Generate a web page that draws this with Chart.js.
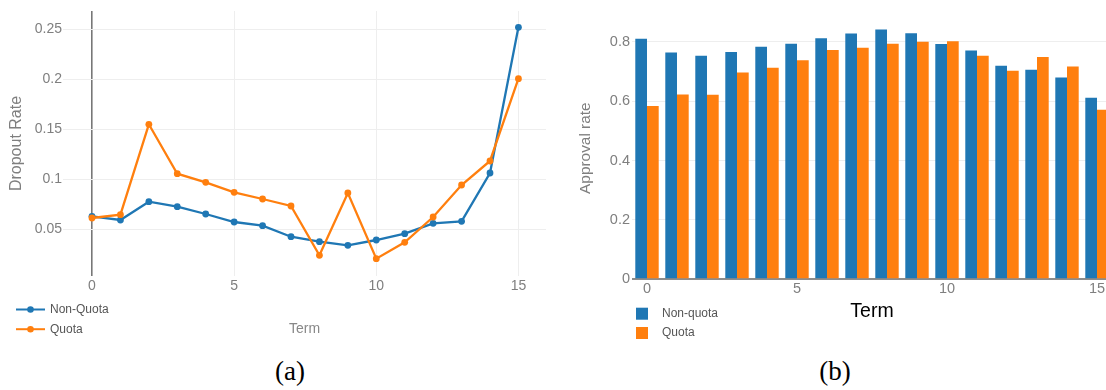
<!DOCTYPE html>
<html>
<head>
<meta charset="utf-8">
<script src="https://cdn.jsdelivr.net/npm/chart.js@4.4.1/dist/chart.umd.min.js"></script>
<style>
  html, body { margin: 0; padding: 0; background: #fff; }
  body { width: 1106px; height: 390px; overflow: hidden; position: relative; }
  #dropout { position: absolute; left: 0; top: 0; width: 560px; height: 345px; }
  #approval { position: absolute; left: 560px; top: 0; width: 560px; height: 345px; }
  .caption {
    position: absolute; top: 358px; width: 120px; margin-left: -60px;
    text-align: center; font-family: 'Liberation Serif', 'DejaVu Serif', serif;
    font-size: 27px; line-height: 27px; color: #000;
  }
</style>
</head>
<body>
<canvas id="dropout" width="560" height="345"></canvas>
<canvas id="approval" width="560" height="345"></canvas>
<div class="caption" style="left:290px">(a)</div>
<div class="caption" style="left:835px">(b)</div>
<script>
// ---- data ----
const terms = [0, 1, 2, 3, 4, 5, 6, 7, 8, 9, 10, 11, 12, 13, 14, 15];

const nonQuotaDropout = [0.0627, 0.059, 0.0773, 0.0723, 0.065, 0.057, 0.0533, 0.0423,
                         0.0373, 0.0337, 0.039, 0.0453, 0.0557, 0.0577, 0.106, 0.2517];
const quotaDropout    = [0.061, 0.0643, 0.1547, 0.1053, 0.0967, 0.0867, 0.08, 0.073,
                         0.0237, 0.086, 0.0203, 0.0367, 0.062, 0.094, 0.118, 0.2003];

const nonQuotaApproval = [0.811, 0.764, 0.753, 0.766, 0.784, 0.794, 0.812, 0.828,
                          0.842, 0.829, 0.793, 0.771, 0.720, 0.706, 0.680, 0.612];
const quotaApproval    = [0.584, 0.623, 0.622, 0.697, 0.713, 0.738, 0.773, 0.780,
                          0.794, 0.801, 0.802, 0.753, 0.703, 0.749, 0.717, 0.571];

const termTicks = [0, 5, 10, 15];
const dropoutTicks = [0.05, 0.1, 0.15, 0.2, 0.25];
const dropoutTickLabels = ['0.05', '0.1', '0.15', '0.2', '0.25'];
const approvalTicks = [0, 0.2, 0.4, 0.6, 0.8];
const approvalTickLabels = ['0', '0.2', '0.4', '0.6', '0.8'];

// ---- styling ----
const BLUE = '#1f77b4';
const ORANGE = '#ff7f0e';
const SANS = "'Liberation Sans', Arial, sans-serif";
const GREY = '#7f7f7f';

// Legend stacked in a column below the axis, drawn from the dataset list
const stackedLegend = {
  id: 'stackedLegend',
  afterDraw(chart, args, opts) {
    const ctx = chart.ctx;
    ctx.save();
    chart.data.datasets.forEach((ds, i) => {
      const y = opts.y + i * opts.rowGap;
      const color = ds.borderColor || ds.backgroundColor;
      if (opts.symbol === 'line') {
        ctx.strokeStyle = color;
        ctx.lineWidth = 2;
        ctx.beginPath();
        ctx.moveTo(opts.x, y);
        ctx.lineTo(opts.x + opts.symbolWidth, y);
        ctx.stroke();
        ctx.fillStyle = color;
        ctx.beginPath();
        ctx.arc(opts.x + opts.symbolWidth / 2, y, 3.3, 0, Math.PI * 2);
        ctx.fill();
      } else {
        ctx.fillStyle = ds.backgroundColor;
        ctx.fillRect(opts.x, y - opts.symbolWidth / 2, opts.symbolWidth, opts.symbolWidth);
      }
      ctx.fillStyle = opts.color;
      ctx.font = opts.font;
      ctx.textBaseline = 'middle';
      ctx.textAlign = 'left';
      ctx.fillText(ds.label, opts.textX, y);
    });
    ctx.restore();
  }
};

const setTicks = values => scale => { scale.ticks = values.map(v => ({ value: v })); };
const labelFrom = (values, labels) => v => {
  const i = values.findIndex(t => Math.abs(t - v) < 1e-9);
  return i >= 0 ? labels[i] : '';
};

// ---- (a) dropout rate by term ----
new Chart(document.getElementById('dropout'), {
  type: 'line',
  data: {
    datasets: [
      {
        label: 'Non-Quota',
        data: terms.map((t, i) => ({ x: t, y: nonQuotaDropout[i] })),
        borderColor: BLUE, backgroundColor: BLUE,
        borderWidth: 2.3, pointRadius: 3.4, pointBorderWidth: 0,
        pointBackgroundColor: BLUE, tension: 0, order: 1
      },
      {
        label: 'Quota',
        data: terms.map((t, i) => ({ x: t, y: quotaDropout[i] })),
        borderColor: ORANGE, backgroundColor: ORANGE,
        borderWidth: 2.3, pointRadius: 3.4, pointBorderWidth: 0,
        pointBackgroundColor: ORANGE, tension: 0, order: 0
      }
    ]
  },
  plugins: [stackedLegend],
  options: {
    responsive: false,
    animation: false,
    devicePixelRatio: 1,
    layout: { padding: { top: 11, right: 14, bottom: 0, left: 0 } },
    plugins: {
      legend: { display: false },
      tooltip: { enabled: false },
      stackedLegend: {
        symbol: 'line', x: 16, y: 309.5, rowGap: 19.7, symbolWidth: 29, textX: 50,
        font: '12px ' + SANS, color: '#555'
      }
    },
    scales: {
      x: {
        type: 'linear', min: -1.02, max: 15.97,
        afterBuildTicks: setTicks(termTicks),
        afterFit: s => { s.height = 69; },
        border: { display: false },
        grid: {
          drawTicks: false,
          color: c => (c.tick && c.tick.value === 0) ? '#777' : '#eeeeee',
          lineWidth: c => (c.tick && c.tick.value === 0) ? 1.6 : 1
        },
        ticks: {
          padding: 2, maxRotation: 0, autoSkip: false,
          color: GREY, font: { family: SANS, size: 14 },
          callback: v => String(v)
        },
        title: {
          display: true, text: 'Term', color: '#888',
          font: { family: SANS, size: 14 }, padding: { top: 0, bottom: 7 }
        }
      },
      y: {
        type: 'linear', min: 0.003, max: 0.268,
        afterBuildTicks: setTicks(dropoutTicks),
        afterFit: s => { s.width = 63; },
        border: { display: false },
        grid: { drawTicks: false, color: '#eeeeee', lineWidth: 1 },
        ticks: {
          padding: 1, color: GREY, font: { family: SANS, size: 14 },
          callback: labelFrom(dropoutTicks, dropoutTickLabels)
        },
        title: {
          display: true, text: 'Dropout Rate', color: GREY,
          font: { family: SANS, size: 16 }, padding: { top: 7.4, bottom: 0 }
        }
      }
    }
  }
});

// ---- (b) approval rate by term ----
new Chart(document.getElementById('approval'), {
  type: 'bar',
  data: {
    labels: terms.map(String),
    datasets: [
      { label: 'Non-quota', data: nonQuotaApproval, backgroundColor: BLUE,
        categoryPercentage: 0.78, barPercentage: 1.0 },
      { label: 'Quota', data: quotaApproval, backgroundColor: ORANGE,
        categoryPercentage: 0.78, barPercentage: 1.0 }
    ]
  },
  plugins: [stackedLegend],
  options: {
    responsive: false,
    animation: false,
    devicePixelRatio: 1,
    layout: { padding: { top: 17, right: 8, bottom: 0, left: 0 } },
    plugins: {
      legend: { display: false },
      tooltip: { enabled: false },
      stackedLegend: {
        symbol: 'box', x: 76, y: 313.7, rowGap: 19.3, symbolWidth: 12, textX: 102,
        font: '12px ' + SANS, color: '#555'
      }
    },
    scales: {
      x: {
        type: 'category',
        afterFit: s => { s.height = 65.7; },
        border: { display: false },
        grid: { display: false, drawTicks: false },
        ticks: {
          padding: 1, maxRotation: 0, autoSkip: false,
          color: GREY, font: { family: SANS, size: 14.5 },
          callback: (v, i) => termTicks.includes(terms[i]) ? String(terms[i]) : ''
        },
        title: {
          display: true, text: 'Term', color: '#000',
          font: { family: SANS, size: 19.5 }, padding: { top: 0, bottom: 21.5 }
        }
      },
      y: {
        type: 'linear', min: 0, max: 0.884,
        afterBuildTicks: setTicks(approvalTicks),
        afterFit: s => { s.width = 72; },
        border: { display: false },
        grid: {
          drawTicks: false,
          color: c => (c.tick && c.tick.value === 0) ? '#8c8c8c' : '#eeeeee',
          lineWidth: c => (c.tick && c.tick.value === 0) ? 2 : 1
        },
        ticks: {
          padding: 2, color: GREY, font: { family: SANS, size: 14.5 },
          callback: labelFrom(approvalTicks, approvalTickLabels)
        },
        title: {
          display: true, text: 'Approval rate', color: GREY,
          font: { family: SANS, size: 15.4 }, padding: { top: 16.5, bottom: 0 }
        }
      }
    }
  }
});
</script>
</body>
</html>
